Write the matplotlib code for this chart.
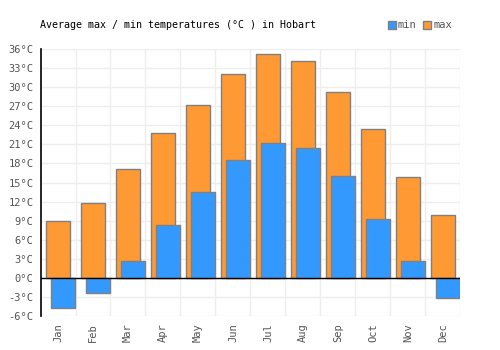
import numpy as np
import matplotlib
matplotlib.use("Agg")
import matplotlib.pyplot as plt
from matplotlib.patches import Patch

months = ["Jan", "Feb", "Mar", "Apr", "May", "Jun", "Jul", "Aug", "Sep", "Oct", "Nov", "Dec"]
t_max = [8.9, 11.8, 17.1, 22.8, 27.2, 32.0, 35.2, 34.1, 29.2, 23.4, 15.8, 9.9]
t_min = [-4.8, -2.3, 2.6, 8.3, 13.5, 18.5, 21.2, 20.4, 16.0, 9.2, 2.6, -3.1]
y_ticks = list(range(-6, 37, 3))

ORANGE = "#ff9933"
BLUE = "#3399ff"
EDGE = "#808080"
GRID = "#eeeeee"
TEXT = "#555555"

plt.rcParams["font.family"] = ["DejaVu Sans Mono"]


def main():
    fig = plt.figure(figsize=(5, 3.5), dpi=100)
    ax = fig.add_axes([0.081, 0.097, 0.84, 0.763])

    x = np.arange(len(months))
    ax.bar(x + 0.5, t_max, width=0.67, color=ORANGE, edgecolor=EDGE, linewidth=1, zorder=2)
    ax.bar(x + 0.31, t_min, width=0.69, align="edge", color=BLUE, edgecolor=EDGE, linewidth=1, zorder=3)

    ax.set_xlim(0, len(months))
    ax.set_ylim(-6, 36)

    # grid
    for xv in range(1, len(months) + 1):
        ax.axvline(xv, color=GRID, linewidth=1, zorder=1)
    for yv in y_ticks:
        ax.axhline(yv, color=GRID, linewidth=1, zorder=1)
    ax.axhline(0, color="black", linewidth=1, zorder=4)

    for s in ["top", "right", "bottom"]:
        ax.spines[s].set_visible(False)
    ax.spines["left"].set_color("black")
    ax.spines["left"].set_linewidth(1.2)
    ax.spines["left"].set_zorder(5)

    ax.set_yticks(y_ticks)
    ax.set_yticklabels(["%d°C" % v for v in y_ticks], fontsize=7.5, color=TEXT)
    ax.set_xticks(x + 0.5)
    ax.set_xticklabels(months, rotation=90, fontsize=7.5, color=TEXT)
    ax.tick_params(length=0, pad=5)

    fig.text(0.08, 0.928, "Average max / min temperatures (°C ) in Hobart",
             fontsize=7.2, color="black", va="center", ha="left")

    handles = [Patch(facecolor=BLUE, edgecolor=EDGE, label="min"),
               Patch(facecolor=ORANGE, edgecolor=EDGE, label="max")]
    fig.legend(handles=handles, loc="center left", bbox_to_anchor=(0.775, 0.928), ncol=2,
               frameon=False, fontsize=7.5, handlelength=0.8, handleheight=0.8,
               handletextpad=0.2, columnspacing=0.6, labelcolor=TEXT, borderaxespad=0, borderpad=0)

    fig.savefig("out.png", dpi=100)


if __name__ == "__main__":
    main()
